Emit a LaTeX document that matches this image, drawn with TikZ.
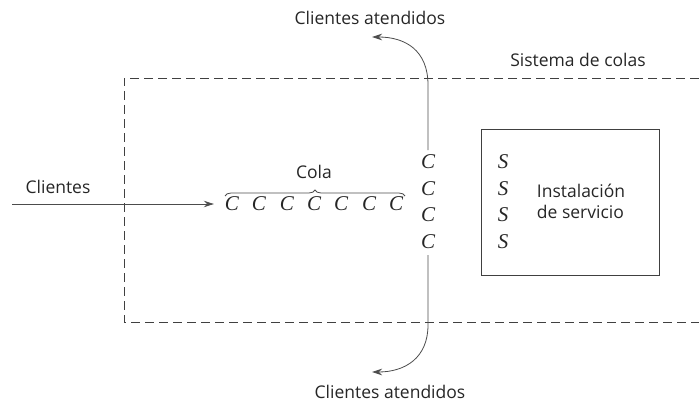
\documentclass[tikz,border=0pt]{standalone}
\usepackage{fontspec}
\setmainfont{Open Sans}
\newfontfamily\serifit{Liberation Serif}
\usetikzlibrary{arrows.meta,decorations.pathreplacing}
\begin{document}
\begin{tikzpicture}[x=1pt,y=-1pt,
  lbl/.style={font=\fontsize{17.5}{21}\selectfont, text=black!85, inner sep=0pt},
  let/.style={font=\serifit\itshape\fontsize{21}{21}\selectfont, text=black!85, inner sep=0pt},
  ln/.style={draw=black!70, line width=0.8pt},
  arr/.style={ln, -{Stealth[length=10pt,width=6.5pt]}},
  dsh/.style={draw=black!75, line width=0.8pt, dash pattern=on 9pt off 5pt}]
\useasboundingbox (0,0) rectangle (699,404);
% system boundary (open on the right)
\draw[dsh] (699,78) -- (124,78) -- (124,322) -- (699,322);
\node[lbl] (sys) at (578,60) {Sistema de colas};
% service facility
\node[draw=black!75, line width=0.8pt, minimum width=178pt, minimum height=146pt, inner sep=0pt] (box) at (570,202) {};
\foreach \y/\n in {162/1,189/2,215/3,242/4}
  \node[let] (s\n) at (503,\y) {S};
\node[lbl, align=left] (inst) at (581,201) {Instalación\\de servicio};
% queue
\foreach \x/\n in {232/1,259/2,287/3,314/4,341/5,369/6,396/7}
  \node[let] (q\n) at (\x,204) {C};
\draw[ln, decoration={brace,amplitude=6pt}, decorate] (225,196) -- (405,196);
\node[lbl] (cola) at (314,172) {Cola};
% arrivals
\node[lbl] (cli) at (58,187) {Clientes};
\coordinate (src) at (12,204);
\draw[arr, shorten >=11pt] (src) -- (q1.west);
% customers in service
\foreach \y/\n in {162/1,189/2,215/3,242/4}
  \node[let] (c\n) at (428,\y) {C};
\node[lbl] (outT) at (370,18) {Clientes atendidos};
\node[lbl] (outB) at (390,392) {Clientes atendidos};
\coordinate (topend) at (372,37);
\coordinate (botend) at (372,372);
\coordinate (topstart) at (428,150);
\coordinate (botstart) at (428,255);
\draw[arr] (topstart) -- (428,85) .. controls (428,50) and (405,37) .. (topend);
\draw[arr] (botstart) -- (428,325) .. controls (428,358) and (405,372) .. (botend);
\end{tikzpicture}
\end{document}
